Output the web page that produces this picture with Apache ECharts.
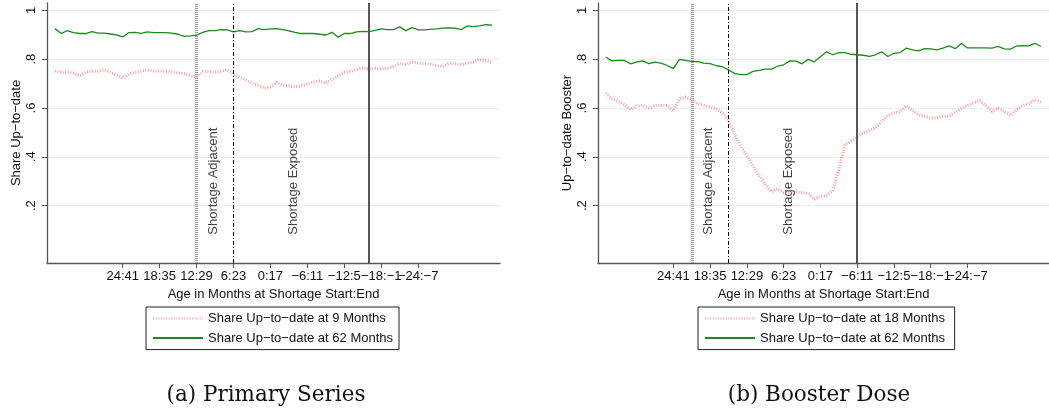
<!DOCTYPE html>
<html>
<head>
    <meta charset="utf-8">
    <script src="https://cdn.jsdelivr.net/npm/echarts@6/dist/echarts.min.js"></script>
    <title>Up-to-date shares by age at shortage</title>
    <style>
        body { margin: 0; background: #fff; }
        #main { width: 1049px; height: 412px; }
    </style>
</head>
<body>
    <div id="main"></div>

    <script type="text/javascript">
        // age in months at shortage start (x), one point per month
        var months = [35, 34, 33, 32, 31, 30, 29, 28, 27, 26, 25, 24, 23, 22, 21, 20, 19, 18,
                      17, 16, 15, 14, 13, 12, 11, 10, 9, 8, 7, 6, 5, 4, 3, 2, 1, 0,
                      -1, -2, -3, -4, -5, -6, -7, -8, -9, -10, -11, -12, -13, -14, -15, -16, -17, -18,
                      -19, -20, -21, -22, -23, -24, -25, -26, -27, -28, -29, -30, -31, -32, -33, -34, -35, -36];

        var xTickValues = [24, 18, 12, 6, 0, -6, -12, -18, -24];
        var xTickLabels = ['24:41', '18:35', '12:29', '6:23', '0:17', '\u22126:11', '\u221212:5', '\u221218:\u22121', '\u221224:\u22127'];
        var yTickValues = [0.2, 0.4, 0.6, 0.8, 1];
        var yTickLabels = ['.2', '.4', '.6', '.8', '1'];

        // (a) primary series
        var primary9 = [0.752, 0.746, 0.747, 0.743, 0.732, 0.746, 0.751, 0.750, 0.757, 0.746, 0.736, 0.722,
                        0.740, 0.746, 0.750, 0.757, 0.751, 0.752, 0.750, 0.748, 0.744, 0.740, 0.733, 0.727,
                        0.750, 0.748, 0.746, 0.750, 0.757, 0.736, 0.725, 0.716, 0.702, 0.693, 0.682, 0.686,
                        0.705, 0.693, 0.691, 0.686, 0.691, 0.699, 0.706, 0.711, 0.702, 0.718, 0.732, 0.746,
                        0.750, 0.757, 0.763, 0.760, 0.762, 0.760, 0.762, 0.770, 0.782, 0.778, 0.789, 0.784,
                        0.781, 0.780, 0.773, 0.770, 0.784, 0.781, 0.778, 0.784, 0.788, 0.799, 0.794, 0.786];
        var primary62 = [0.925, 0.905, 0.917, 0.909, 0.905, 0.905, 0.913, 0.907, 0.907, 0.903, 0.899, 0.891,
                         0.909, 0.910, 0.906, 0.912, 0.909, 0.909, 0.909, 0.907, 0.902, 0.893, 0.895, 0.898,
                         0.910, 0.917, 0.917, 0.921, 0.920, 0.912, 0.917, 0.912, 0.913, 0.925, 0.921, 0.924,
                         0.925, 0.921, 0.916, 0.910, 0.905, 0.905, 0.905, 0.902, 0.899, 0.910, 0.890, 0.905,
                         0.905, 0.912, 0.914, 0.913, 0.918, 0.924, 0.921, 0.921, 0.932, 0.917, 0.929, 0.920,
                         0.920, 0.922, 0.924, 0.927, 0.928, 0.927, 0.921, 0.936, 0.933, 0.936, 0.941, 0.939];

        // (b) booster dose
        var booster18 = [0.661, 0.638, 0.627, 0.614, 0.593, 0.607, 0.612, 0.600, 0.610, 0.610, 0.610, 0.588,
                         0.637, 0.645, 0.634, 0.616, 0.610, 0.605, 0.597, 0.580, 0.552, 0.490, 0.444, 0.405,
                         0.362, 0.321, 0.287, 0.256, 0.269, 0.253, 0.256, 0.256, 0.253, 0.250, 0.226, 0.239,
                         0.242, 0.262, 0.345, 0.450, 0.464, 0.482, 0.498, 0.509, 0.518, 0.546, 0.569, 0.580,
                         0.586, 0.610, 0.590, 0.573, 0.566, 0.559, 0.559, 0.566, 0.566, 0.582, 0.600, 0.610,
                         0.620, 0.630, 0.610, 0.586, 0.600, 0.586, 0.569, 0.593, 0.610, 0.618, 0.634, 0.623];
        var booster62 = [0.808, 0.793, 0.795, 0.795, 0.781, 0.788, 0.793, 0.782, 0.788, 0.784, 0.774, 0.761,
                         0.799, 0.795, 0.790, 0.790, 0.784, 0.782, 0.773, 0.769, 0.756, 0.741, 0.737, 0.737,
                         0.750, 0.754, 0.759, 0.759, 0.771, 0.777, 0.793, 0.792, 0.781, 0.799, 0.789, 0.810,
                         0.830, 0.818, 0.827, 0.827, 0.820, 0.818, 0.816, 0.811, 0.818, 0.830, 0.811, 0.824,
                         0.827, 0.845, 0.838, 0.834, 0.843, 0.842, 0.838, 0.845, 0.854, 0.843, 0.864, 0.846,
                         0.846, 0.846, 0.846, 0.845, 0.852, 0.842, 0.841, 0.854, 0.855, 0.854, 0.865, 0.852];

        // shortage markers: [adjacent start, exposed start, exposed end]
        var primaryLines = [12, 6, -16];
        var boosterLines = [21, 15, -6];
        var primaryNotes = [[9.3, 0.30, 'Shortage Adjacent'], [-3.7, 0.30, 'Shortage Exposed']];
        var boosterNotes = [[18.3, 0.30, 'Shortage Adjacent'], [5.3, 0.30, 'Shortage Exposed']];

        var FONT = '"Liberation Sans", Arial, sans-serif';
        var RED = 'rgba(255, 95, 95, 0.6)';
        var GREEN = '#1c8a1c';

        function pairs(vals) {
            return vals.map(function (v, i) { return [months[i], v]; });
        }

        // labels overlap in the original, so alternate ticks go on a second, overlaid axis
        function xAxisFor(gi, parity) {
            var vals = xTickValues.filter(function (v, i) { return i % 2 === parity; });
            var main = parity === 0;
            return {
                type: 'value', gridIndex: gi, inverse: true, min: -37.3, max: 36.3, position: 'bottom', offset: 0,
                name: main ? 'Age in Months at Shortage Start:End' : '', nameLocation: 'middle', nameGap: 21,
                nameTextStyle: { fontFamily: FONT, fontSize: 13, color: '#111' },
                axisLine: { show: main, onZero: false, lineStyle: { color: '#555', width: 1.3 } },
                axisTick: { show: main, length: 5, customValues: xTickValues, lineStyle: { color: '#555' } },
                axisLabel: {
                    customValues: vals, margin: 7, fontFamily: FONT, fontSize: 13, color: '#111',
                    hideOverlap: false,
                    formatter: function (v) { return xTickLabels[xTickValues.indexOf(v)]; }
                },
                splitLine: { show: false }
            };
        }

        function yAxisFor(gi, name) {
            return {
                type: 'value', gridIndex: gi, min: -0.035, max: 1.03,
                name: name, nameLocation: 'middle', nameGap: 24, nameRotate: 90,
                nameTextStyle: { fontFamily: FONT, fontSize: 13, color: '#111' },
                axisLine: { show: true, onZero: false, lineStyle: { color: '#555', width: 1.3 } },
                axisTick: { show: true, length: 5, customValues: yTickValues, lineStyle: { color: '#555' } },
                axisLabel: {
                    customValues: yTickValues, rotate: 90, margin: 9, fontFamily: FONT, fontSize: 13, color: '#111',
                    formatter: function (v) { return yTickLabels[yTickValues.indexOf(v)]; }
                },
                splitLine: { show: true, lineStyle: { color: '#e8f0f1', width: 1.2 } }
            };
        }

        function shortageLines(vals) {
            return {
                silent: true, symbol: 'none', label: { show: false },
                data: [
                    { xAxis: vals[0], lineStyle: { color: '#9a9a9a', width: 3, type: [1, 1] } },
                    { xAxis: vals[1], lineStyle: { color: '#000', width: 1, type: [4, 2, 1, 2] } },
                    { xAxis: vals[2], lineStyle: { color: '#555', width: 2, type: 'solid' } }
                ]
            };
        }

        function noteSeries(xi, yi, notes) {
            return {
                type: 'scatter', xAxisIndex: xi, yAxisIndex: yi, symbolSize: 0, silent: true,
                data: notes,
                label: {
                    show: true, position: 'inside', rotate: 90,
                    fontFamily: FONT, fontSize: 13, color: '#111',
                    formatter: function (p) { return p.value[2]; }
                }
            };
        }

        function redLine(xi, yi, name, vals) {
            return {
                name: name, type: 'line', xAxisIndex: xi, yAxisIndex: yi, symbol: 'none',
                data: pairs(vals),
                lineStyle: { color: RED, width: 3, type: [1, 1.6] },
                itemStyle: { color: RED }
            };
        }

        function greenLine(xi, yi, name, vals, lines) {
            return {
                name: name, type: 'line', xAxisIndex: xi, yAxisIndex: yi, symbol: 'none',
                data: pairs(vals),
                lineStyle: { color: GREEN, width: 1.3 },
                itemStyle: { color: GREEN },
                markLine: shortageLines(lines)
            };
        }

        function legendAt(left, names) {
            return {
                left: left, top: 307, orient: 'vertical',
                data: names,
                padding: [5, 6, 5, 6], itemGap: 6.6, itemWidth: 50, itemHeight: 12,
                borderColor: '#222', borderWidth: 1, borderRadius: 0,
                selectedMode: false,
                itemStyle: { opacity: 0 },
                textStyle: { fontFamily: FONT, fontSize: 13, color: '#111' }
            };
        }

        var p9 = 'Share Up\u2212to\u2212date at 9 Months';
        var p62 = 'Share Up\u2212to\u2212date at 62 Months';
        var b18 = 'Share Up\u2212to\u2212date at 18 Months';
        var b62 = 'Share Up\u2212to\u2212date at 62 Months ';

        var myChart = echarts.init(document.getElementById('main'), null, { renderer: 'canvas' });

        myChart.setOption({
            animation: false,
            backgroundColor: '#fff',
            grid: [
                { left: 47, top: 3, width: 453, height: 260 },
                { left: 598, top: 3, width: 451, height: 260 }
            ],
            xAxis: [xAxisFor(0, 0), xAxisFor(0, 1), xAxisFor(1, 0), xAxisFor(1, 1)],
            yAxis: [yAxisFor(0, 'Share Up\u2212to\u2212date'), yAxisFor(1, 'Up\u2212to\u2212date Booster')],
            legend: [legendAt(146, [p9, p62]), legendAt(698, [b18, b62])],
            graphic: [
                { type: 'text', x: 266, y: 395, style: { text: '(a) Primary Series', font: '21.5px "DejaVu Serif", serif', fill: '#111', align: 'center', verticalAlign: 'middle' } },
                { type: 'text', x: 819, y: 395, style: { text: '(b) Booster Dose', font: '21.5px "DejaVu Serif", serif', fill: '#111', align: 'center', verticalAlign: 'middle' } }
            ],
            series: [
                redLine(0, 0, p9, primary9),
                greenLine(0, 0, p62, primary62, primaryLines),
                noteSeries(0, 0, primaryNotes),
                redLine(2, 1, b18, booster18),
                greenLine(2, 1, b62, booster62, boosterLines),
                noteSeries(2, 1, boosterNotes)
            ]
        });
    </script>
</body>
</html>
